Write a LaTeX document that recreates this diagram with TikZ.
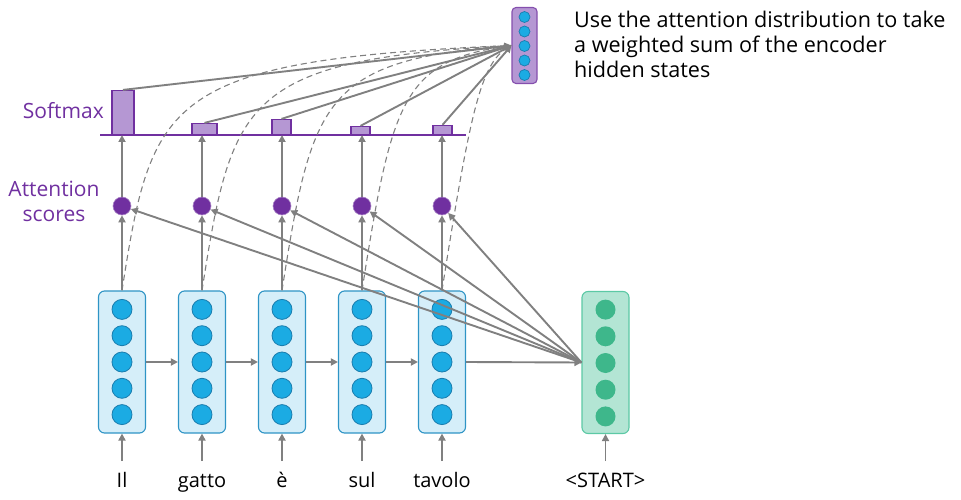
\documentclass[tikz,border=0pt]{standalone}
\usepackage{fontspec}
\setmainfont{Open Sans}
\usetikzlibrary{arrows.meta}
\usetikzlibrary{calc}

\definecolor{encfill}{HTML}{D5EEF9}
\definecolor{encdraw}{HTML}{2E94C5}
\definecolor{encdot}{HTML}{1BABE3}
\definecolor{encring}{HTML}{1A7DAE}
\definecolor{decfill}{HTML}{B3E5D4}
\definecolor{decdraw}{HTML}{5CC9A5}
\definecolor{decdot}{HTML}{3EB78B}
\definecolor{attn}{HTML}{7030A0}
\definecolor{barfill}{HTML}{B597D3}
\definecolor{linegray}{HTML}{808080}

\tikzset{
	encbox/.style={draw=encdraw, fill=encfill, rounded corners=6pt, minimum width=47pt, minimum height=142pt, inner sep=0pt, line width=1.1pt},
	encunit/.style={circle, draw=encring, fill=encdot, minimum size=20pt, inner sep=0pt, line width=0.8pt},
	decbox/.style={draw=decdraw, fill=decfill, rounded corners=6pt, minimum width=47pt, minimum height=142pt, inner sep=0pt, line width=1.1pt},
	decunit/.style={circle, fill=decdot, minimum size=20pt, inner sep=0pt},
	ctxbox/.style={draw=attn!85, fill=barfill, rounded corners=4pt, minimum width=25pt, minimum height=76pt, inner sep=0pt, line width=1.1pt},
	ctxunit/.style={circle, draw=encring, fill=encdot, minimum size=11pt, inner sep=0pt, line width=0.7pt},
	score/.style={circle, fill=attn, draw=attn!60, line width=0.6pt, minimum size=18pt, inner sep=0pt},
	bar/.style={draw=attn, fill=barfill, inner sep=0pt, line width=1.1pt, anchor=south},
	link/.style={draw=linegray, line width=1.9pt, -{Triangle[length=7pt, width=7pt]}},
	attdash/.style={draw=linegray, line width=1.1pt, dash pattern=on 6pt off 4pt},
	word/.style={anchor=base, font=\fontsize{20}{24}\selectfont},
	plabel/.style={text=attn, font=\fontsize{21}{25}\selectfont, inner sep=0pt}
}

\begin{document}
\begin{tikzpicture}[x=1pt, y=-1pt]
	\useasboundingbox (0,0) rectangle (961,500);

	% encoder hidden states and input words
	\foreach \i/\x/\w in {1/122/Il, 2/202/gatto, 3/282/è, 4/362/sul, 5/442/tavolo} {
		\node[encbox] (e\i) at (\x,362) {};
		\foreach \y in {309.4, 335.7, 362, 388.3, 414.6}
			\node[encunit] at (\x,\y) {};
		\node[word] (w\i) at (\x,487) {\w};
		\coordinate (in\i) at (\x,461);
		\draw[link] (in\i) -- (e\i);
	}

	% decoder
	\node[decbox] (dec) at (605.5,362.5) {};
	\foreach \y in {309.6, 336.3, 363, 389.7, 416.4}
		\node[decunit] at (605.5,\y) {};
	\node[word] (wd) at (605.5,487) {<START>};
	\coordinate (ind) at (605.5,461);
	\draw[link] (ind) -- (dec);

	% recurrence
	\foreach \i/\j in {1/2, 2/3, 3/4, 4/5}
		\draw[link] (e\i.east) -- (e\j.west);
	\draw[link] (e5.east) -- (dec.west);

	% context vector
	\node[ctxbox] (ctx) at (524.5,45.5) {};
	\foreach \y in {17, 31.5, 46, 60.5, 75}
		\node[ctxunit] at (524.5,\y) {};
	\node[anchor=north west, align=left, inner sep=0pt, font=\fontsize{21.6}{25}\selectfont] (note) at (574,11)
		{Use the attention distribution to take\\a weighted sum of the encoder\\hidden states};

	% softmax axis
	\coordinate (ax0) at (100,135);
	\coordinate (ax1) at (466,135);
	\draw[attn, line width=1.1pt] (ax0) -- (ax1);
	\node[plabel, anchor=east] (lsoft) at (104,111) {Softmax};
	\node[plabel, align=center] (lscore) at (54,201) {Attention\\scores};

	% scores, bars, attention
	\foreach \i/\x/\bx/\h/\bw in {1/122/123/44/22, 2/202/204.5/11/25, 3/282/281.5/15/19, 4/362/360.5/8/19, 5/442/442.5/9/19} {
		\node[score] (s\i) at (\x,206) {};
		\node[bar, minimum width=\bw pt, minimum height=\h pt] (b\i) at (\bx,135) {};
		\draw[link] (e\i.north) -- (s\i);
		\draw[link] (s\i) -- (s\i |- b\i.south);
		\draw[link] (dec.west) -- (s\i);
		\draw[link] (b\i.north) -- (ctx.west);
		\draw[attdash] (e\i.north) .. controls (\x+30,100) and (\x+40,60) .. (ctx.west);
	}
\end{tikzpicture}
\end{document}
